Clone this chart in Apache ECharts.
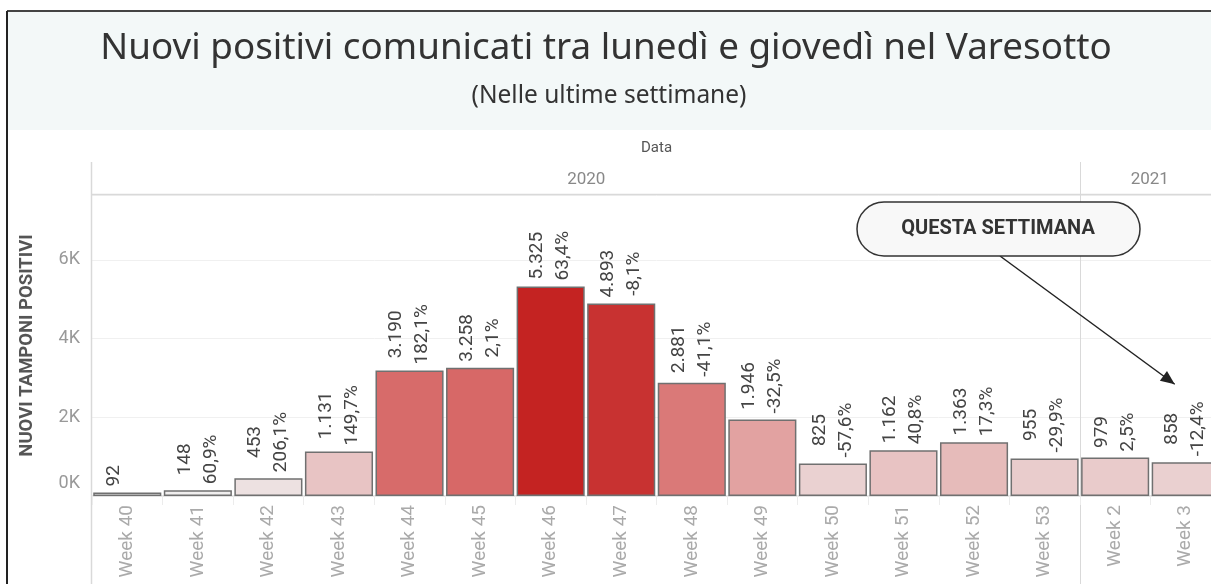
<!DOCTYPE html>
<html>
<head>
<meta charset="utf-8">
<script src="https://cdn.jsdelivr.net/npm/echarts@6/dist/echarts.min.js"></script>
<style>
  html, body { margin: 0; padding: 0; background: #fff; overflow: hidden; }
  /* il grafico originale è tagliato a destra: il contenitore è più largo della finestra */
  #chart { width: 1221px; height: 584px; }
</style>
</head>
<body>
<div id="chart"></div>
<script>
// dati
const weeks = ["Week 40", "Week 41", "Week 42", "Week 43", "Week 44", "Week 45", "Week 46", "Week 47",
  "Week 48", "Week 49", "Week 50", "Week 51", "Week 52", "Week 53", "Week 2", "Week 3"];
const positivi = [92, 148, 453, 1131, 3190, 3258, 5325, 4893, 2881, 1946, 825, 1162, 1363, 955, 979, 858];
const variazioni = ["", "60,9%", "206,1%", "149,7%", "182,1%", "2,1%", "63,4%", "-8,1%",
  "-41,1%", "-32,5%", "-57,6%", "40,8%", "17,3%", "-29,9%", "2,5%", "-12,4%"];
const anni = ["2020", "2021"];
const yTicks = [0, 2000, 4000, 6000];

const chart = echarts.init(document.getElementById("chart"));

const fmtIt = v => String(v).replace(/\B(?=(\d{3})+(?!\d))/g, ".");

const GRID_LEFT = 92, GRID_TOP = 195, GRID_H = 301;
const VIEW_W = 1211;

const option = {
  animation: false,
  textStyle: { fontFamily: "Roboto" },
  title: [
    {
      text: "Nuovi positivi comunicati tra lunedì e giovedì nel Varesotto",
      left: 601, top: 25, textAlign: "center",
      textStyle: { fontFamily: "Noto Sans", fontSize: 36.8, fontWeight: "normal", color: "#333" }
    },
    {
      text: "(Nelle ultime settimane)",
      left: 604, top: 79, textAlign: "center",
      textStyle: { fontFamily: "Noto Sans", fontSize: 24.5, fontWeight: "normal", color: "#333" }
    }
  ],
  grid: { left: GRID_LEFT, top: GRID_TOP, right: 0, height: GRID_H },
  visualMap: {
    show: false,
    type: "continuous",
    seriesIndex: 0,
    min: Math.min(...positivi),
    max: Math.max(...positivi),
    inRange: { color: ["#f0f0f0", "#e8c4c4", "#e09897", "#d76968", "#cd4847", "#c42322"] }
  },
  xAxis: {
    type: "category",
    data: weeks,
    axisLine: { show: true, lineStyle: { color: "#dedede", width: 1.5 } },
    axisTick: { show: true, alignWithLabel: false, interval: 0, length: 9, lineStyle: { color: "#ececec" } },
    axisLabel: { rotate: 90, interval: 0, fontSize: 19, color: "#aaa", margin: 9 }
  },
  yAxis: {
    type: "value",
    min: 0, max: 7650, interval: 2000,
    name: "NUOVI TAMPONI POSITIVI",
    nameLocation: "middle",
    nameGap: 55,
    nameTextStyle: { fontSize: 18.5, fontWeight: "bold", color: "#555" },
    axisLine: { show: false },
    axisTick: { show: false },
    splitLine: { lineStyle: { color: "#f0f0f0", width: 1 } },
    axisLabel: {
      fontSize: 18, color: "#999", margin: 12,
      formatter: v => {
        if (!yTicks.includes(v)) return "";
        if (v === 0) return "{z|0K}";
        return v / 1000 + "K";
      },
      rich: { z: { fontSize: 18, color: "#999", padding: [0, 0, 26, 0] } }
    }
  },
  series: [{
    type: "bar",
    data: positivi,
    barCategoryGap: "3.5%",
    itemStyle: { borderColor: "#707070", borderWidth: 1.5 },
    label: {
      show: true,
      position: "top",
      distance: 6,
      rotate: 90,
      align: "left",
      verticalAlign: "middle",
      formatter: p => "{c|" + fmtIt(p.value) + "}\n{c|" + (variazioni[p.dataIndex] || " ") + "}",
      rich: { c: { align: "center", fontSize: 19, lineHeight: 26, color: "#444" } }
    }
  }]
};

chart.setOption(option);

// intestazione anni, separatori e annotazione
const px = i => chart.convertToPixel({ xAxisIndex: 0 }, weeks[i]);
const band = px(1) - px(0);
const iw2 = weeks.indexOf("Week 2");
const sepX = Math.round((px(iw2 - 1) + px(iw2)) / 2) + 0.5;
const startX = px(0) - band / 2;
const endX = px(weeks.length - 1) + band / 2;
const W = chart.getWidth(), H = chart.getHeight();
const last = weeks.length - 1;
const tipX = px(last) - 11;
const tipY = chart.convertToPixel({ yAxisIndex: 0 }, positivi[last]) - 78;

chart.setOption({
  graphic: [
    { type: "rect", z: -10, shape: { x: 8, y: 12, width: W, height: 118 }, style: { fill: "#f3f8f8" } },
    { type: "line", shape: { x1: 7, y1: 11, x2: W, y2: 11 }, style: { stroke: "#444", lineWidth: 2 } },
    { type: "line", shape: { x1: 7, y1: 11, x2: 7, y2: H }, style: { stroke: "#222", lineWidth: 2 } },
    { type: "line", shape: { x1: GRID_LEFT - 0.5, y1: 162, x2: GRID_LEFT - 0.5, y2: H }, style: { stroke: "#d9d9d9", lineWidth: 1.5 } },
    { type: "line", shape: { x1: sepX, y1: 162, x2: sepX, y2: H }, style: { stroke: "#d9d9d9", lineWidth: 1 } },
    { type: "line", shape: { x1: GRID_LEFT, y1: 194.5, x2: W, y2: 194.5 }, style: { stroke: "#d9d9d9", lineWidth: 1.5 } },
    { type: "text", x: (GRID_LEFT + endX) / 2, y: 148,
      style: { text: "Data", fontFamily: "Roboto", fontSize: 15, fill: "#555", align: "center", verticalAlign: "middle" } },
    { type: "text", x: (startX + sepX) / 2, y: 180,
      style: { text: anni[0], fontFamily: "Roboto", fontSize: 17, fill: "#888", align: "center", verticalAlign: "middle" } },
    { type: "text", x: (sepX + VIEW_W) / 2 + 4, y: 180,
      style: { text: anni[1], fontFamily: "Roboto", fontSize: 17, fill: "#888", align: "center", verticalAlign: "middle" } },
    { type: "line", shape: { x1: 1000, y1: 256, x2: tipX, y2: tipY },
      style: { stroke: "#222", lineWidth: 1.5 } },
    { type: "polygon", shape: { points: (() => {
        const a = Math.atan2(tipY - 256, tipX - 1000), L = 14, w = 6;
        const bx = tipX - L * Math.cos(a), by = tipY - L * Math.sin(a);
        return [[tipX, tipY], [bx + w * Math.sin(a), by - w * Math.cos(a)], [bx - w * Math.sin(a), by + w * Math.cos(a)]];
      })() }, style: { fill: "#222" } },
    { type: "rect", shape: { x: 857, y: 202, width: 283, height: 54, r: 27 },
      style: { fill: "#f8f8f8", stroke: "#333", lineWidth: 1.5 } },
    { type: "text", x: 998, y: 229,
      style: { text: "QUESTA SETTIMANA", fontFamily: "Roboto", fontWeight: "bold", fontSize: 20, fill: "#333", align: "center", verticalAlign: "middle" } }
  ]
});
</script>
</body>
</html>
